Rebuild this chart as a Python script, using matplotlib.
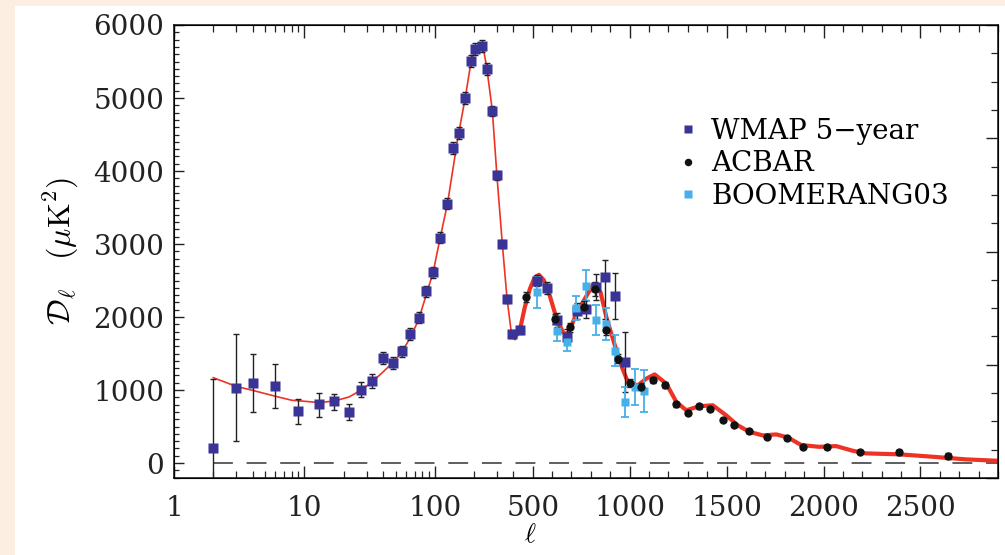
import numpy as np
import matplotlib.pyplot as plt
from matplotlib.patches import Rectangle
from matplotlib.ticker import FixedLocator, NullFormatter, MultipleLocator

# WMAP 5-year band powers
ell_wmap = [2, 3, 4, 6, 9, 13, 17, 22, 27, 33, 40, 48, 56, 65, 76, 86, 97, 110, 125,
            139, 153, 171, 189, 205, 229, 250, 276, 299, 329, 358, 389, 433, 522, 574,
            625, 677, 728, 773, 825, 873, 924, 975]
dl_wmap = [209, 1033, 1096, 1055, 709, 805, 846, 700, 1005, 1123, 1437, 1368, 1528,
           1769, 1987, 2351, 2610, 3088, 3551, 4315, 4520, 4998, 5507, 5671, 5712, 5393,
           4825, 3943, 3006, 2247, 1769, 1828, 2497, 2397, 1960, 1733, 2087, 2110, 2415,
           2542, 2292, 1382]
err_wmap_hi = [946, 737, 391, 295, 173, 159, 104, 114, 100, 95, 85, 80, 80, 80, 75, 75,
               75, 75, 75, 80, 80, 80, 80, 80, 80, 80, 70, 60, 55, 55, 50, 55, 75, 80,
               100, 100, 110, 130, 180, 240, 310, 410]
err_wmap_lo = [1400, 733, 396, 295, 168, 174, 123, 104, 100, 95, 85, 80, 80, 80, 75, 75,
               75, 75, 75, 80, 80, 80, 80, 80, 80, 80, 70, 60, 55, 55, 50, 55, 75, 80,
               100, 100, 110, 130, 180, 570, 320, 410]

# ACBAR
ell_acbar = [466, 613, 691, 763, 820, 880, 940, 1003, 1060, 1120, 1180, 1241, 1300, 1360,
             1416, 1480, 1540, 1615, 1710, 1811, 1893, 2017, 2190, 2387, 2642]
dl_acbar = [2269, 1974, 1860, 2142, 2383, 1824, 1428, 1096, 1045, 1137, 1064, 805, 686,
            775, 744, 596, 523, 437, 359, 337, 223, 214, 155, 150, 100]
err_acbar = [70, 70, 60, 80, 90, 70, 60, 55, 50, 45, 40, 35, 30, 30, 30, 25, 25, 22, 20,
             20, 20, 20, 22, 35, 40]

# BOOMERANG03
ell_boom = [522, 625, 677, 725, 773, 825, 877, 924, 975, 1027, 1074]
dl_boom = [2337, 1805, 1655, 2124, 2428, 1960, 1905, 1541, 837, 1041, 986]
err_boom = [210, 135, 115, 160, 215, 205, 218, 216, 210, 245, 285]

# best-fit model
ell_model_lo = [2, 3, 4, 6, 8, 10, 13, 17, 22, 27, 33, 40, 48, 56, 65, 75, 86, 97, 110,
                125, 150, 171, 189, 205, 220, 235, 250, 276, 299, 329, 358, 389, 407]
dl_model_lo = [1169, 1050, 996, 914, 860, 846, 828, 850, 905, 996, 1110, 1246, 1382, 1519,
               1723, 1960, 2306, 2610, 3088, 3551, 4450, 5000, 5480, 5680, 5740, 5690,
               5420, 4830, 3950, 3010, 2250, 1740, 1715]
ell_model_hi = [407, 433, 459, 485, 510, 532, 557, 588, 622, 656, 677, 700, 728, 773, 812,
                850, 880, 924, 960, 991, 1043, 1085, 1129, 1189, 1241, 1292, 1360, 1429,
                1497, 1557, 1618, 1687, 1756, 1816, 1885, 1979, 2065, 2151, 2220, 2392,
                2564, 2736, 2899]
dl_model_hi = [1715, 1814, 2132, 2383, 2542, 2578, 2506, 2292, 1988, 1791, 1760, 1883,
               2064, 2269, 2451, 2337, 1996, 1610, 1314, 1109, 1064, 1155, 1214, 1087, 836,
               723, 778, 791, 655, 518, 427, 378, 392, 351, 246, 222, 232, 168, 132, 119,
               86, 50, 31]

xticks = [1, 10, 100, 500, 1000, 1500, 2000, 2500]
xminor = ([2, 3, 4, 5, 6, 7, 8, 9, 20, 30, 40, 50, 60, 70, 80, 90, 200, 300, 400]
          + [l for l in range(600, 3000, 100) if l % 500 != 0])

# log axis up to l=400, linear above
L0 = 400.0
K = 0.194 / 130.5


def fwd(x):
    x = np.asarray(x, dtype=float)
    with np.errstate(divide='ignore', invalid='ignore'):
        lg = np.log10(np.clip(x, 1e-3, None))
    return np.where(x <= L0, lg, np.log10(L0) + (x - L0) * K)


def inv(u):
    u = np.asarray(u, dtype=float)
    u0 = np.log10(L0)
    with np.errstate(over='ignore'):
        return np.where(u <= u0, 10 ** np.minimum(u, u0), L0 + (u - u0) / K)


plt.rcParams['font.family'] = 'DejaVu Serif'
plt.rcParams['mathtext.fontset'] = 'cm'

fig = plt.figure(figsize=(10.05, 5.55), dpi=100, facecolor='#fdeee2')
fig.patches.append(Rectangle((15 / 1005, 0), 990 / 1005, 549 / 555, transform=fig.transFigure,
                             facecolor='white', edgecolor='none', zorder=-10))
ax = fig.add_axes([174 / 1005, 1 - 478 / 555, 824 / 1005, 453 / 555])
ax.patch.set_alpha(0)
ax.set_xscale('function', functions=(fwd, inv))
ax.set_xlim(1, 2900)
ax.set_ylim(-205, 6000)

ax.plot([2, 2900], [0, 0], color='#333333', lw=1.1, dashes=(13, 9), zorder=1)

ax.plot(ell_model_lo, dl_model_lo, color='#ee3324', lw=1.2, zorder=2)
ax.plot(ell_model_hi, dl_model_hi, color='#ee3324', lw=3.0, zorder=2)

ax.errorbar(ell_wmap, dl_wmap, yerr=[err_wmap_lo, err_wmap_hi], fmt='none', ecolor='#222222',
            elinewidth=1.0, capsize=2.5, capthick=1.0, zorder=3)
ax.errorbar(ell_boom, dl_boom, yerr=err_boom, fmt='none', ecolor='#45b0ea',
            elinewidth=1.3, capsize=3, capthick=1.3, zorder=3)
ax.errorbar(ell_acbar, dl_acbar, yerr=err_acbar, fmt='none', ecolor='#222222',
            elinewidth=1.0, capsize=2.5, capthick=1.0, zorder=3)

ax.plot(ell_wmap, dl_wmap, 's', color='#3b3497', ms=7, mec='none', zorder=4,
        label='WMAP 5\u2212year')
ax.plot(ell_acbar, dl_acbar, 'o', color='#111111', ms=6, mec='none', zorder=5,
        label='ACBAR')
ax.plot(ell_boom, dl_boom, 's', color='#45b0ea', ms=6, mec='none', zorder=4,
        label='BOOMERANG03')

ax.xaxis.set_major_locator(FixedLocator(xticks))
ax.xaxis.set_minor_locator(FixedLocator(xminor))
ax.set_xticklabels([str(t) for t in xticks])
ax.xaxis.set_minor_formatter(NullFormatter())
ax.yaxis.set_major_locator(MultipleLocator(1000))
ax.yaxis.set_minor_locator(MultipleLocator(100))

ax.tick_params(which='both', direction='in', top=True, labelsize=20, colors='#222222')
ax.tick_params(axis='x', which='major', length=9, width=1.0, pad=12)
ax.tick_params(axis='x', which='minor', length=5, width=0.9)
ax.tick_params(axis='y', which='major', length=7, width=1.0, pad=7)
ax.tick_params(axis='y', which='minor', length=3.5, width=0.9)
for s in ax.spines.values():
    s.set_linewidth(1.2)
    s.set_color('#222222')

ax2 = ax.twinx()
ax2.set_ylim(0, 16)
ax2.yaxis.set_major_locator(MultipleLocator(4))
ax2.yaxis.set_minor_locator(MultipleLocator(1))
ax2.tick_params(which='both', direction='in', labelright=False, colors='#222222')
ax2.tick_params(which='major', length=9, width=1.0)
ax2.tick_params(which='minor', length=5, width=0.9)

ax.set_xlabel(r'$\ell$', fontsize=19)
ax.xaxis.set_label_coords(0.432, -0.098)
ax.set_ylabel(r'$\mathcal{D}_\ell\ \ \ (\mu{\rm K}^2)$', fontsize=23)
ax.yaxis.set_label_coords(-0.113, 0.5)

ax.legend(loc='upper left', bbox_to_anchor=(664 / 1005, 1 - 104 / 555),
          bbox_transform=fig.transFigure, frameon=False, fontsize=20,
          handlelength=0.7, handletextpad=0.5, labelspacing=0.2, borderpad=0,
          markerscale=0.9)

fig.savefig('out.png', dpi=100, facecolor=fig.get_facecolor())
